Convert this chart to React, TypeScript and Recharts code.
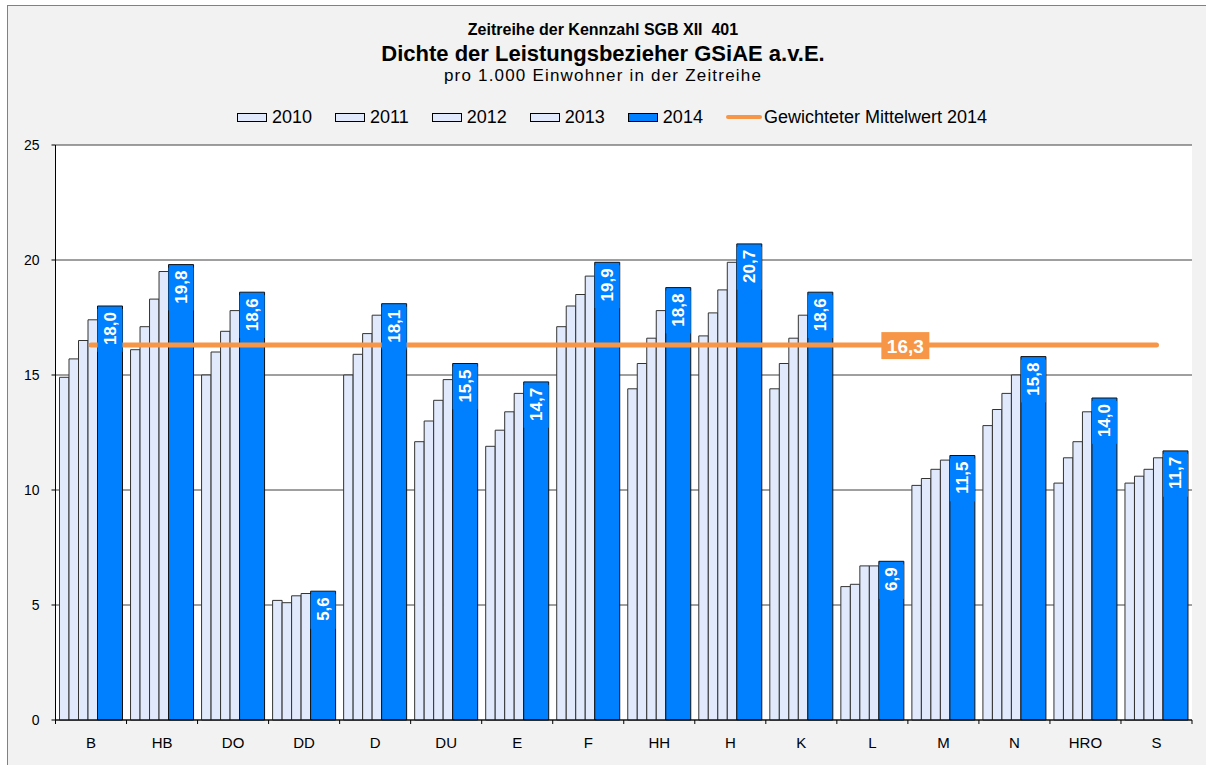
import {
  ComposedChart,
  Bar,
  Line,
  XAxis,
  YAxis,
  CartesianGrid,
  Legend,
} from "recharts";

const categories = ["B", "HB", "DO", "DD", "D", "DU", "E", "F", "HH", "H", "K", "L", "M", "N", "HRO", "S"];
const years = ["2010", "2011", "2012", "2013", "2014"];
const v2010 = [14.9, 16.1, 15.0, 5.2, 15.0, 12.1, 11.9, 17.1, 14.4, 16.7, 14.4, 5.8, 10.2, 12.8, 10.3, 10.3];
const v2011 = [15.7, 17.1, 16.0, 5.1, 15.9, 13.0, 12.6, 18.0, 15.5, 17.7, 15.5, 5.9, 10.5, 13.5, 11.4, 10.6];
const v2012 = [16.5, 18.3, 16.9, 5.4, 16.8, 13.9, 13.4, 18.5, 16.6, 18.7, 16.6, 6.7, 10.9, 14.2, 12.1, 10.9];
const v2013 = [17.4, 19.5, 17.8, 5.5, 17.6, 14.8, 14.2, 19.3, 17.8, 19.9, 17.6, 6.7, 11.3, 15.0, 13.4, 11.4];
const v2014 = [18.0, 19.8, 18.6, 5.6, 18.1, 15.5, 14.7, 19.9, 18.8, 20.7, 18.6, 6.9, 11.5, 15.8, 14.0, 11.7];
const mittelwert2014 = 16.3;
const yTicks = [0, 5, 10, 15, 20, 25];

const data = categories.map((cat, i) => ({
  cat,
  y2010: v2010[i],
  y2011: v2011[i],
  y2012: v2012[i],
  y2013: v2013[i],
  y2014: v2014[i],
  mean: mittelwert2014,
}));

const FONT = "'Liberation Sans', Arial, sans-serif";
const LIGHT = "#E0EAFC";
const DARK = "#0080FF";
const ORANGE = "#F79646";
const LIGHT_W = 9.5;
const DARK_W = 25;
// 2014 bar centre relative to the category centre
const DARK_DX = -(4 * LIGHT_W + DARK_W) / 2 + 4 * LIGHT_W + DARK_W / 2;
const MEAN_LABEL_INDEX = 11;

const fmt = (v: number) => v.toFixed(1).replace(".", ",");

function CategoryTick(props: any) {
  const { x, y, payload, index } = props;
  const half = payload?.offset || 35.5;
  return (
    <g>
      <line x1={x - half} x2={x - half} y1={y} y2={y + 4} stroke="#000" />
      {index === categories.length - 1 && (
        <line x1={x + half} x2={x + half} y1={y} y2={y + 4} stroke="#000" />
      )}
      <text x={x} y={y + 22} textAnchor="middle" dominantBaseline="central" fontSize={15} fill="#000" fontFamily={FONT}>
        {payload.value}
      </text>
    </g>
  );
}

const render2014Label = (p: any) => {
  const { x, y, value } = p;
  if (x == null || y == null) return null;
  const cx = x + DARK_DX;
  const text = fmt(value);
  const len = text.length * 8.2;
  return (
    <g>
      <rect x={cx - DARK_W / 2} y={y + 3} width={DARK_W} height={len + 10} fill={DARK} />
      <text
        x={cx}
        y={y + 6}
        transform={`rotate(-90 ${cx} ${y + 6})`}
        textAnchor="end"
        dominantBaseline="central"
        fill="#fff"
        fontSize={17}
        fontWeight="bold"
        fontFamily={FONT}
      >
        {text}
      </text>
    </g>
  );
};

const renderMeanLabel = (p: any) => {
  const { x, y, index, value } = p;
  if (index !== MEAN_LABEL_INDEX) return null;
  const cx = x + 33;
  return (
    <g>
      <rect x={cx - 24} y={y - 13} width={48} height={27} fill={ORANGE} />
      <text x={cx} y={y + 1} textAnchor="middle" dominantBaseline="central" fill="#fff" fontSize={19} fontWeight="bold" fontFamily={FONT}>
        {fmt(value)}
      </text>
    </g>
  );
};

const renderLegend = () => (
  <div style={{ display: "flex", alignItems: "center", fontSize: 18, lineHeight: "20px", fontFamily: FONT, color: "#000", whiteSpace: "nowrap" }}>
    {years.map((yr) => (
      <span key={yr} style={{ display: "flex", alignItems: "center", marginRight: 23 }}>
        <span style={{ width: 28, height: 7, border: "1px solid #000", background: yr === "2014" ? DARK : LIGHT, marginRight: 5 }} />
        {yr}
      </span>
    ))}
    <span style={{ display: "flex", alignItems: "center" }}>
      <span style={{ width: 36, height: 4, borderRadius: 2, background: ORANGE, marginRight: 2 }} />
      Gewichteter Mittelwert 2014
    </span>
  </div>
);

export default function App() {
  return (
    <>
      <div
        style={{
          position: "absolute",
          left: 7,
          top: 5,
          width: 1199,
          height: 760,
          background: "#F2F2F2",
          borderTop: "1.5px solid #2F95F5",
          borderLeft: "1.5px solid #2F95F5",
          boxSizing: "border-box",
        }}
      />
      <div style={{ position: "absolute", left: 0, top: 0, width: 1206, height: 765, fontFamily: FONT }}>
        <div style={{ position: "absolute", left: 0, width: 1206, top: 20, textAlign: "center", fontWeight: "bold", fontSize: 16, lineHeight: "20px" }}>
          Zeitreihe der Kennzahl SGB XII&nbsp;&nbsp;401
        </div>
        <div style={{ position: "absolute", left: 0, width: 1206, top: 41, textAlign: "center", fontWeight: "bold", fontSize: 22, lineHeight: "26px" }}>
          Dichte der Leistungsbezieher GSiAE a.v.E.
        </div>
        <div style={{ position: "absolute", left: 0, width: 1206, top: 66, textAlign: "center", fontSize: 17, letterSpacing: 1.2, lineHeight: "20px" }}>
          pro 1.000 Einwohner in der Zeitreihe
        </div>
        <ComposedChart
          width={1206}
          height={765}
          data={data}
          barGap={0}
          margin={{ top: 145, right: 14, bottom: 15, left: 5.5 }}
          style={{ position: "absolute", left: 0, top: 0 }}
        >
          <CartesianGrid vertical={false} stroke="#404040" fill="#fff" />
          <XAxis
            dataKey="cat"
            height={30}
            tickSize={0}
            tickMargin={0}
            tickLine={false}
            axisLine={{ stroke: "#000" }}
            tick={<CategoryTick />}
            interval={0}
          />
          <YAxis
            domain={[0, 25]}
            ticks={yTicks}
            width={50}
            tickSize={4}
            tickMargin={12}
            tickLine={{ stroke: "#000" }}
            axisLine={{ stroke: "#000" }}
            tick={{ fill: "#000", fontSize: 14, fontFamily: FONT }}
          />
          <YAxis
            yAxisId="right"
            orientation="right"
            domain={[0, 25]}
            width={0}
            tick={false}
            tickLine={false}
            axisLine={{ stroke: "#808080" }}
          />
          <Legend
            content={renderLegend}
            layout="horizontal"
            verticalAlign="middle"
            align="center"
            wrapperStyle={{ top: 107, left: 237, width: 800 }}
          />
          <Bar dataKey="y2010" name="2010" fill={LIGHT} stroke="#333" barSize={LIGHT_W} isAnimationActive={false} />
          <Bar dataKey="y2011" name="2011" fill={LIGHT} stroke="#333" barSize={LIGHT_W} isAnimationActive={false} />
          <Bar dataKey="y2012" name="2012" fill={LIGHT} stroke="#333" barSize={LIGHT_W} isAnimationActive={false} />
          <Bar dataKey="y2013" name="2013" fill={LIGHT} stroke="#333" barSize={LIGHT_W} isAnimationActive={false} />
          <Bar dataKey="y2014" name="2014" fill={DARK} stroke="#111" barSize={DARK_W} isAnimationActive={false} />
          <Line
            dataKey="mean"
            name="Gewichteter Mittelwert 2014"
            stroke={ORANGE}
            strokeWidth={5}
            strokeLinecap="round"
            dot={false}
            activeDot={false}
            isAnimationActive={false}
            label={renderMeanLabel}
          />
          <Line
            dataKey="y2014"
            stroke="none"
            dot={false}
            activeDot={false}
            legendType="none"
            isAnimationActive={false}
            label={render2014Label}
          />
        </ComposedChart>
      </div>
    </>
  );
}
